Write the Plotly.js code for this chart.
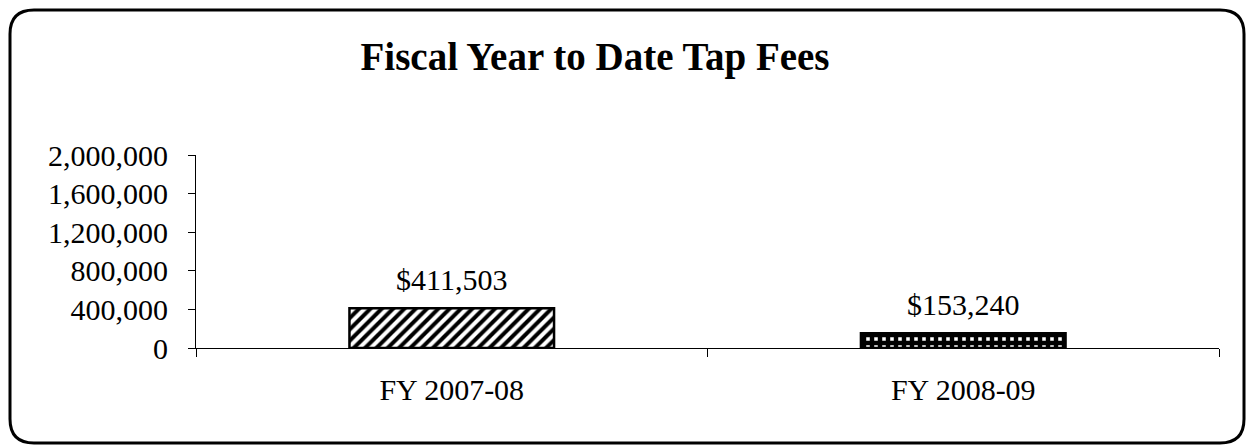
<!DOCTYPE html>
<html>
<head>
<meta charset="utf-8">
<script src="https://cdn.plot.ly/plotly-3.0.1.min.js"></script>
<style>
  html, body { margin: 0; padding: 0; background: #fff; }
  #chart { width: 1246px; height: 446px; }
</style>
</head>
<body>
<div id="chart"></div>
<script>
const categories = ["FY 2007-08", "FY 2008-09"];
const tapFees = [411503, 153240];
const valueLabels = ["$411,503", "$153,240"];
const yTickValues = [0, 400000, 800000, 1200000, 1600000, 2000000];

const W = 1246, H = 446;
const mL = 196, mR = 27, mT = 155, mB = 98;
const pw = W - mL - mR, ph = H - mT - mB;
function px(x) { return (x - mL) / pw; }
function py(y) { return (H - mB - y) / ph; }

// rounded border path in paper coords
const bl = 10, bt = 10, br = 1244, bb = 443, rad = 24;
const borderPath = [
  "M", px(bl + rad), py(bt),
  "L", px(br - rad), py(bt),
  "Q", px(br), py(bt), px(br), py(bt + rad),
  "L", px(br), py(bb - rad),
  "Q", px(br), py(bb), px(br - rad), py(bb),
  "L", px(bl + rad), py(bb),
  "Q", px(bl), py(bb), px(bl), py(bb - rad),
  "L", px(bl), py(bt + rad),
  "Q", px(bl), py(bt), px(bl + rad), py(bt),
  "Z"
].join(" ");

const patternStyles = [
  { shape: "/", fgcolor: "#000000", bgcolor: "#ffffff", size: 8, solidity: 0.5, fillmode: "replace" },
  { shape: "+", fgcolor: "#000000", bgcolor: "#ffffff", size: 8, solidity: 0.8, fillmode: "replace" }
];

const traces = categories.map((c, i) => ({
  type: "bar",
  x: [c],
  y: [tapFees[i]],
  width: 0.4,
  marker: {
    color: "#ffffff",
    line: { color: "#000000", width: 2.5 },
    pattern: patternStyles[i]
  },
  hoverinfo: "skip"
}));

const serif = "Liberation Serif, Times New Roman, serif";

const annotations = categories.map((c, i) => ({
  x: c, y: tapFees[i], xref: "x", yref: "y",
  text: valueLabels[i], showarrow: false,
  yanchor: "bottom", yshift: 10,
  font: { family: serif, size: 30, color: "#000" }
}));

const layout = {
  width: W, height: H,
  margin: { l: mL, r: mR, t: mT, b: mB, pad: 0 },
  paper_bgcolor: "#ffffff",
  plot_bgcolor: "#ffffff",
  showlegend: false,
  barmode: "overlay",
  title: {
    text: "<b>Fiscal Year to Date Tap Fees</b>",
    x: 595 / W, xanchor: "center",
    y: 1 - 56 / H, yanchor: "middle",
    xref: "container", yref: "container",
    font: { family: serif, size: 39, color: "#000" }
  },
  font: { family: serif, color: "#000" },
  xaxis: {
    type: "category",
    showline: true, linecolor: "#000", linewidth: 1,
    ticks: "outside", tickson: "boundaries", ticklen: 8, tickcolor: "#000",
    ticklabelstandoff: 15,
    showgrid: false, zeroline: false,
    tickfont: { size: 30, color: "#000" }
  },
  yaxis: {
    range: [0, 2000000],
    tickvals: yTickValues,
    tickformat: ",d",
    showline: true, linecolor: "#000", linewidth: 1,
    ticks: "outside", ticklen: 7, tickcolor: "#000",
    ticklabelstandoff: 14,
    showgrid: false, zeroline: false,
    tickfont: { size: 30, color: "#000" }
  },
  annotations: annotations,
  shapes: [{
    type: "path", xref: "paper", yref: "paper",
    path: borderPath,
    line: { color: "#000", width: 3 },
    fillcolor: "rgba(0,0,0,0)",
    layer: "above"
  }]
};

Plotly.newPlot("chart", traces, layout, { staticPlot: true, displayModeBar: false });
</script>
</body>
</html>
